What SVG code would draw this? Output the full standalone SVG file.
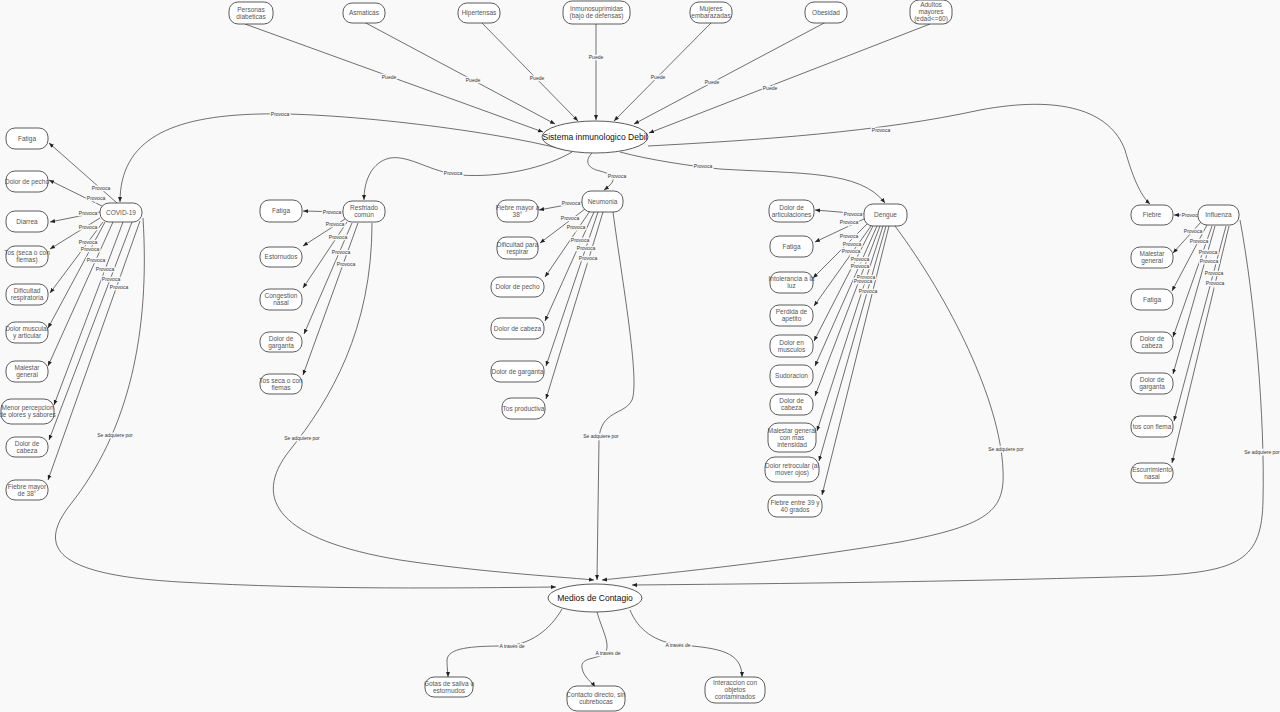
<svg xmlns="http://www.w3.org/2000/svg" width="1280" height="712" viewBox="0 0 1280 712">
<style>
.bg{fill:#f9f9f9}
.n rect,.n ellipse{fill:#fff;stroke:#333;stroke-width:0.8}
.t{font-family:"Liberation Sans",Arial,sans-serif;font-size:6.5px;fill:#555;text-anchor:middle}
.big{font-family:"Liberation Sans",Arial,sans-serif;font-size:8.5px;fill:#111;text-anchor:middle}
#edges path{fill:none;stroke:#333;stroke-width:0.7;marker-end:url(#a)}
.lb{font-family:"Liberation Sans",Arial,sans-serif;font-size:5px;fill:#333;text-anchor:middle;paint-order:stroke;stroke:#f9f9f9;stroke-width:2.5px}
</style>
<defs>
<marker id="a" viewBox="0 0 10 10" refX="10" refY="5" markerWidth="5" markerHeight="5" orient="auto" markerUnits="userSpaceOnUse"><path d="M0,1 L10,5 L0,9 z" fill="#222"/></marker>
</defs>
<rect class="bg" x="0" y="0" width="1280" height="712"/>

<g id="edges">
<!-- top to Sistema -->
<path d="M245,24 L543,132"/>
<path d="M364,22 L555,124"/>
<path d="M481,22 L578,121"/>
<path d="M596,24 L596,120"/>
<path d="M711,23 L614,121"/>
<path d="M826,22 L634,124"/>
<path d="M930,24 L649,133"/>
<!-- Sistema to diseases -->
<path d="M566,150 C480,128 330,112 260,114 C170,116 120,140 120,202"/>
<path d="M572,152 C545,168 500,178 460,175 C430,172 410,155 390,158 C372,162 364,180 364,200"/>
<path d="M592,153 C585,160 586,168 600,171 C615,175 618,180 604,190"/>
<path d="M620,152 C650,160 690,166 720,169 C800,174 860,170 885,203"/>
<path d="M648,146 C760,140 880,132 980,110 C1060,95 1110,110 1125,150 C1132,175 1140,195 1150,204"/>
<!-- COVID -->
<path d="M117,203 L49,143"/>
<path d="M102,206 L49,180"/>
<path d="M100,212 L50,222"/>
<path d="M100,218 L50,249"/>
<path d="M103,222 L50,293"/>
<path d="M105,222 L48,328"/>
<path d="M113,222 L48,366"/>
<path d="M123,222 L54,405"/>
<path d="M132,222 L49,440"/>
<path d="M140,221 L48,480"/>
<path d="M143,218 C150,330 130,430 70,505 C35,550 60,575 180,582 C320,590 460,588 556,587"/>
<!-- Resfriado -->
<path d="M343,212 L303,211"/>
<path d="M345,219 L303,246"/>
<path d="M347,222 L303,288"/>
<path d="M352,223 L304,334"/>
<path d="M358,223 L303,375"/>
<path d="M372,223 C372,330 330,400 290,450 C250,500 280,540 400,560 C480,572 550,576 594,580"/>
<!-- Neumonia -->
<path d="M582,202 L539,210"/>
<path d="M585,209 L540,243"/>
<path d="M590,211 L545,277"/>
<path d="M594,212 L545,321"/>
<path d="M598,212 L546,366"/>
<path d="M603,212 L546,399"/>
<path d="M613,212 C622,280 640,380 632,400 C625,415 600,410 599,440 L597,580"/>
<!-- Dengue -->
<path d="M864,214 L815,210"/>
<path d="M866,218 L815,242"/>
<path d="M868,223 L813,278"/>
<path d="M871,226 L814,306"/>
<path d="M873,226 L814,341"/>
<path d="M877,226 L815,366"/>
<path d="M880,226 L815,396"/>
<path d="M883,226 L817,431"/>
<path d="M886,226 L819,461"/>
<path d="M889,226 L822,495"/>
<path d="M895,226 C950,300 1000,400 1003,470 C1005,510 990,525 900,542 C780,562 660,574 602,580"/>
<!-- Influenza -->
<path d="M1198,215 L1174,215"/>
<path d="M1201,222 L1173,253"/>
<path d="M1207,225 L1172,291"/>
<path d="M1212,226 L1173,337"/>
<path d="M1215,226 L1173,374"/>
<path d="M1226,226 L1174,421"/>
<path d="M1229,226 L1172,463"/>
<path d="M1240,220 C1255,300 1265,420 1263,500 C1262,560 1240,572 1150,576 C950,582 750,584 632,585"/>
<!-- Medios -->
<path d="M562,609 C550,630 530,645 505,646 C470,646 448,648 447,660 C447,668 448,673 448,677"/>
<path d="M597,612 C602,630 610,642 606,652 C600,660 580,656 582,668 C584,678 592,682 595,687"/>
<path d="M630,610 C638,630 655,642 680,645 C720,648 742,652 742,677"/>
</g>

<g id="labels">
<text class="lb" x="389" y="79">Puede</text>
<text class="lb" x="473" y="82">Puede</text>
<text class="lb" x="537" y="80">Puede</text>
<text class="lb" x="596" y="59">Puede</text>
<text class="lb" x="658" y="79">Puede</text>
<text class="lb" x="712" y="84">Puede</text>
<text class="lb" x="770" y="90">Puede</text>
<text class="lb" x="280" y="116">Provoca</text>
<text class="lb" x="453" y="175">Provoca</text>
<text class="lb" x="617" y="178">Provoca</text>
<text class="lb" x="703" y="168">Provoca</text>
<text class="lb" x="881" y="132">Provoca</text>
<text class="lb" x="101" y="190">Provoca</text>
<text class="lb" x="96" y="200">Provoca</text>
<text class="lb" x="88" y="215">Provoca</text>
<text class="lb" x="88" y="229">Provoca</text>
<text class="lb" x="88" y="244">Provoca</text>
<text class="lb" x="90" y="251">Provoca</text>
<text class="lb" x="96" y="262">Provoca</text>
<text class="lb" x="105" y="271">Provoca</text>
<text class="lb" x="111" y="281">Provoca</text>
<text class="lb" x="119" y="289">Provoca</text>
<text class="lb" x="115" y="437">Se adquiere por</text>
<text class="lb" x="332" y="214">Provoca</text>
<text class="lb" x="335" y="226">Provoca</text>
<text class="lb" x="338" y="239">Provoca</text>
<text class="lb" x="341" y="254">Provoca</text>
<text class="lb" x="346" y="266">Provoca</text>
<text class="lb" x="302" y="440">Se adquiere por</text>
<text class="lb" x="571" y="205">Provoca</text>
<text class="lb" x="570" y="220">Provoca</text>
<text class="lb" x="576" y="229">Provoca</text>
<text class="lb" x="580" y="242">Provoca</text>
<text class="lb" x="586" y="250">Provoca</text>
<text class="lb" x="588" y="260">Provoca</text>
<text class="lb" x="601" y="438">Se adquiere por</text>
<text class="lb" x="853" y="216">Provoca</text>
<text class="lb" x="849" y="224">Provoca</text>
<text class="lb" x="849" y="238">Provoca</text>
<text class="lb" x="852" y="246">Provoca</text>
<text class="lb" x="851" y="253">Provoca</text>
<text class="lb" x="860" y="261">Provoca</text>
<text class="lb" x="860" y="268">Provoca</text>
<text class="lb" x="866" y="279">Provoca</text>
<text class="lb" x="863" y="283">Provoca</text>
<text class="lb" x="868" y="293">Provoca</text>
<text class="lb" x="1006" y="451">Se adquiere por</text>
<text class="lb" x="1191" y="217">Provoca</text>
<text class="lb" x="1193" y="233">Provoca</text>
<text class="lb" x="1199" y="243">Provoca</text>
<text class="lb" x="1208" y="254">Provoca</text>
<text class="lb" x="1209" y="263">Provoca</text>
<text class="lb" x="1214" y="275">Provoca</text>
<text class="lb" x="1215" y="285">Provoca</text>
<text class="lb" x="1262" y="454">Se adquiere por</text>
<text class="lb" x="512" y="648">A través de</text>
<text class="lb" x="608" y="655">A través de</text>
<text class="lb" x="678" y="647">A través de</text>
</g>

<!-- top row -->
<g id="n-diab" class="n"><rect x="229" y="2" width="44" height="22" rx="9"/><text class="t" x="251" y="11.8">Personas<tspan x="251" dy="7">diabeticas</tspan></text></g>
<g id="n-asma" class="n"><rect x="343" y="3" width="42" height="20" rx="9"/><text class="t" x="364" y="15.3">Asmaticas</text></g>
<g id="n-hiper" class="n"><rect x="458" y="3" width="42" height="20" rx="9"/><text class="t" x="479" y="15.3">Hipertensas</text></g>
<g id="n-inmuno" class="n"><rect x="563" y="1" width="67" height="23" rx="9"/><text class="t" x="596.5" y="11.3">Inmunosuprimidas<tspan x="596.5" dy="7">(bajo de defensas)</tspan></text></g>
<g id="n-mujer" class="n"><rect x="690" y="2" width="42" height="21" rx="9"/><text class="t" x="711" y="11.3">Mujeres<tspan x="711" dy="7">embarazadas</tspan></text></g>
<g id="n-obes" class="n"><rect x="805" y="2" width="42" height="21" rx="9"/><text class="t" x="826" y="14.8">Obesidad</text></g>
<g id="n-adult" class="n"><rect x="910" y="0" width="42" height="24" rx="9"/><text class="t" x="931" y="7.3">Adultos<tspan x="931" dy="7">mayores</tspan><tspan x="931" dy="7">(edad&lt;=60)</tspan></text></g>

<g id="n-sistema" class="n"><ellipse cx="595" cy="137" rx="53" ry="16"/><text class="big" x="595" y="140">Sistema inmunologico Debil</text></g>

<!-- COVID -->
<g id="n-covid" class="n"><rect x="100" y="203" width="42" height="19" rx="9"/><text class="t" x="121" y="214.8">COVID-19</text></g>
<g id="n-c1" class="n"><rect x="6" y="128" width="42" height="21" rx="9"/><text class="t" x="27" y="140.8">Fatiga</text></g>
<g id="n-c2" class="n"><rect x="6" y="171" width="42" height="21" rx="9"/><text class="t" x="27" y="183.8">Dolor de pecho</text></g>
<g id="n-c3" class="n"><rect x="6" y="211" width="42" height="21" rx="9"/><text class="t" x="27" y="223.8">Diarrea</text></g>
<g id="n-c4" class="n"><rect x="6" y="246" width="42" height="21" rx="9"/><text class="t" x="27" y="255.3">Tos (seca o con<tspan x="27" dy="7">flemas)</tspan></text></g>
<g id="n-c5" class="n"><rect x="6" y="284" width="42" height="21" rx="9"/><text class="t" x="27" y="293.3">Dificultad<tspan x="27" dy="7">respiratoria</tspan></text></g>
<g id="n-c6" class="n"><rect x="6" y="322" width="42" height="21" rx="9"/><text class="t" x="27" y="331.3">Dolor muscular<tspan x="27" dy="7">y articular</tspan></text></g>
<g id="n-c7" class="n"><rect x="6" y="361" width="42" height="21" rx="9"/><text class="t" x="27" y="370.3">Malestar<tspan x="27" dy="7">general</tspan></text></g>
<g id="n-c8" class="n"><rect x="1" y="399" width="53" height="25" rx="10"/><text class="t" x="27.5" y="410.3">Menor percepcion<tspan x="27.5" dy="7">de olores y sabores</tspan></text></g>
<g id="n-c9" class="n"><rect x="6" y="437" width="42" height="20" rx="9"/><text class="t" x="27" y="445.8">Dolor de<tspan x="27" dy="7">cabeza</tspan></text></g>
<g id="n-c10" class="n"><rect x="6" y="480" width="42" height="20" rx="9"/><text class="t" x="27" y="488.8">Fiebre mayor<tspan x="27" dy="7">de 38°</tspan></text></g>

<!-- Resfriado -->
<g id="n-resf" class="n"><rect x="343" y="201" width="42" height="21" rx="9"/><text class="t" x="364" y="210.3">Resfriado<tspan x="364" dy="7">común</tspan></text></g>
<g id="n-r1" class="n"><rect x="260" y="200" width="42" height="22" rx="9"/><text class="t" x="281" y="213.3">Fatiga</text></g>
<g id="n-r2" class="n"><rect x="260" y="247" width="42" height="20" rx="9"/><text class="t" x="281" y="259.3">Estornudos</text></g>
<g id="n-r3" class="n"><rect x="260" y="289" width="42" height="21" rx="9"/><text class="t" x="281" y="298.3">Congestion<tspan x="281" dy="7">nasal</tspan></text></g>
<g id="n-r4" class="n"><rect x="260" y="332" width="42" height="20" rx="9"/><text class="t" x="281" y="340.8">Dolor de<tspan x="281" dy="7">garganta</tspan></text></g>
<g id="n-r5" class="n"><rect x="260" y="374" width="42" height="20" rx="9"/><text class="t" x="281" y="382.8">Tos seca o con<tspan x="281" dy="7">flemas</tspan></text></g>

<!-- Neumonia -->
<g id="n-neum" class="n"><rect x="582" y="191" width="41" height="21" rx="9"/><text class="t" x="602.5" y="203.8">Neumonia</text></g>
<g id="n-p1" class="n"><rect x="497" y="200" width="41" height="22" rx="9"/><text class="t" x="517.5" y="209.8">Fiebre mayor a<tspan x="517.5" dy="7">38°</tspan></text></g>
<g id="n-p2" class="n"><rect x="497" y="237" width="41" height="22" rx="9"/><text class="t" x="517.5" y="246.8">Dificultad para<tspan x="517.5" dy="7">respirar</tspan></text></g>
<g id="n-p3" class="n"><rect x="491" y="277" width="53" height="20" rx="9"/><text class="t" x="517.5" y="289.3">Dolor de pecho</text></g>
<g id="n-p4" class="n"><rect x="491" y="318" width="53" height="21" rx="9"/><text class="t" x="517.5" y="330.8">Dolor de cabeza</text></g>
<g id="n-p5" class="n"><rect x="491" y="361" width="53" height="21" rx="9"/><text class="t" x="517.5" y="373.8">Dolor de garganta</text></g>
<g id="n-p6" class="n"><rect x="502" y="398" width="43" height="21" rx="9"/><text class="t" x="523.5" y="410.8">Tos productiva</text></g>

<!-- Dengue -->
<g id="n-deng" class="n"><rect x="864" y="204" width="43" height="22" rx="9"/><text class="t" x="885.5" y="217.3">Dengue</text></g>
<g id="n-d1" class="n"><rect x="769" y="200" width="45" height="22" rx="9"/><text class="t" x="791.5" y="209.8">Dolor de<tspan x="791.5" dy="7">articulaciones</tspan></text></g>
<g id="n-d2" class="n"><rect x="770" y="236" width="43" height="21" rx="9"/><text class="t" x="791.5" y="248.8">Fatiga</text></g>
<g id="n-d3" class="n"><rect x="770" y="272" width="43" height="21" rx="9"/><text class="t" x="791.5" y="281.3">Intolerancia a la<tspan x="791.5" dy="7">luz</tspan></text></g>
<g id="n-d4" class="n"><rect x="770" y="305" width="43" height="21" rx="9"/><text class="t" x="791.5" y="314.3">Perdida de<tspan x="791.5" dy="7">apetito</tspan></text></g>
<g id="n-d5" class="n"><rect x="770" y="335" width="43" height="22" rx="9"/><text class="t" x="791.5" y="344.8">Dolor en<tspan x="791.5" dy="7">musculos</tspan></text></g>
<g id="n-d6" class="n"><rect x="770" y="365" width="43" height="22" rx="9"/><text class="t" x="791.5" y="378.3">Sudoracion</text></g>
<g id="n-d7" class="n"><rect x="770" y="394" width="43" height="21" rx="9"/><text class="t" x="791.5" y="403.3">Dolor de<tspan x="791.5" dy="7">cabeza</tspan></text></g>
<g id="n-d8" class="n"><rect x="768" y="423" width="48" height="29" rx="10"/><text class="t" x="792" y="432.8">Malestar general<tspan x="792" dy="7">con mas</tspan><tspan x="792" dy="7">intensidad</tspan></text></g>
<g id="n-d9" class="n"><rect x="765" y="457" width="54" height="25" rx="10"/><text class="t" x="792" y="468.3">Dolor retrocular (al<tspan x="792" dy="7">mover ojos)</tspan></text></g>
<g id="n-d10" class="n"><rect x="768" y="495" width="54" height="22" rx="9"/><text class="t" x="795" y="504.8">Fiebre entre 39 y<tspan x="795" dy="7">40 grados</tspan></text></g>

<!-- Influenza -->
<g id="n-infl" class="n"><rect x="1198" y="205" width="41" height="20" rx="9"/><text class="t" x="1218.5" y="217.3">Influenza</text></g>
<g id="n-i1" class="n"><rect x="1131" y="205" width="42" height="20" rx="9"/><text class="t" x="1152" y="217.3">Fiebre</text></g>
<g id="n-i2" class="n"><rect x="1131" y="247" width="42" height="21" rx="9"/><text class="t" x="1152" y="256.3">Malestar<tspan x="1152" dy="7">general</tspan></text></g>
<g id="n-i3" class="n"><rect x="1131" y="289" width="42" height="21" rx="9"/><text class="t" x="1152" y="301.8">Fatiga</text></g>
<g id="n-i4" class="n"><rect x="1131" y="332" width="42" height="21" rx="9"/><text class="t" x="1152" y="341.3">Dolor de<tspan x="1152" dy="7">cabeza</tspan></text></g>
<g id="n-i5" class="n"><rect x="1131" y="373" width="42" height="21" rx="9"/><text class="t" x="1152" y="382.3">Dolor de<tspan x="1152" dy="7">garganta</tspan></text></g>
<g id="n-i6" class="n"><rect x="1131" y="416" width="42" height="21" rx="9"/><text class="t" x="1152" y="428.8">tos con flema</text></g>
<g id="n-i7" class="n"><rect x="1131" y="463" width="42" height="20" rx="9"/><text class="t" x="1152" y="471.8">Escurrimiento<tspan x="1152" dy="7">nasal</tspan></text></g>

<!-- Medios -->
<g id="n-medios" class="n"><ellipse cx="595" cy="598" rx="47" ry="14"/><text class="big" x="595" y="601">Medios de Contagio</text></g>
<g id="n-m1" class="n"><rect x="425" y="677" width="48" height="20" rx="9"/><text class="t" x="449" y="685.8">Gotas de saliva o<tspan x="449" dy="7">estornudos</tspan></text></g>
<g id="n-m2" class="n"><rect x="567" y="686" width="58" height="25" rx="10"/><text class="t" x="596" y="697.3">Contacto directo, sin<tspan x="596" dy="7">cubrebocas</tspan></text></g>
<g id="n-m3" class="n"><rect x="705" y="677" width="60" height="26" rx="10"/><text class="t" x="735" y="685.3">Interaccion con<tspan x="735" dy="7">objetos</tspan><tspan x="735" dy="7">contaminados</tspan></text></g>
</svg>
